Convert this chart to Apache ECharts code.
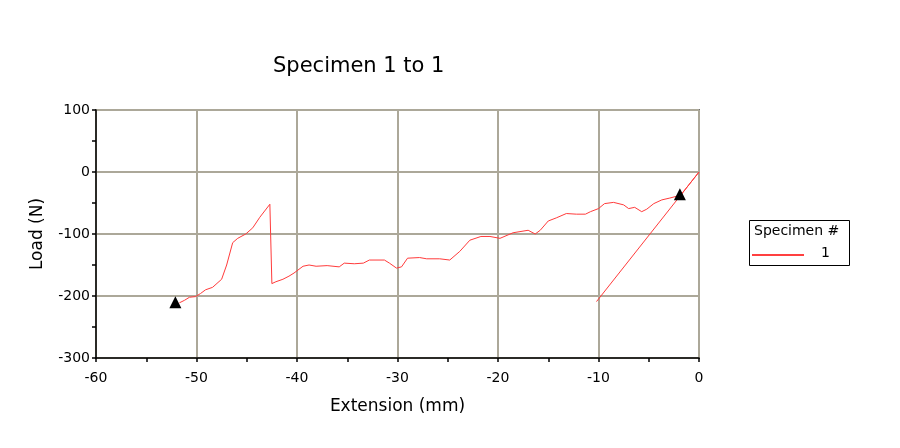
<!DOCTYPE html>
<html><head><meta charset="utf-8">
<script src="https://cdn.jsdelivr.net/npm/echarts@6/dist/echarts.min.js"></script>
<style>html,body{margin:0;padding:0;background:#fff}#c{width:900px;height:448px}</style>
</head><body><div id="c"></div>
<script>
const extension = [-51.7,-51.2,-50.7,-50.1,-49.6,-49.1,-48.4,-47.5,-47.0,-46.4,-45.9,-45.1,-44.4,-43.7,-42.7,-42.5,-42.1,-41.4,-40.8,-40.3,-39.4,-38.8,-38.1,-37.0,-35.8,-35.3,-34.3,-33.4,-32.8,-31.3,-30.8,-30.1,-29.6,-29.0,-27.8,-27.1,-25.8,-24.8,-23.8,-22.8,-21.7,-20.8,-19.8,-18.5,-17.0,-16.3,-15.8,-15.0,-14.2,-13.2,-12.2,-11.3,-10.8,-10.0,-9.4,-8.5,-7.5,-7.0,-6.4,-5.7,-5.2,-4.5,-3.7,-2.9,-2.2,-1.9,0,-10.2];
const load = [-211,-207,-202,-201,-196,-190,-186,-173,-150,-114,-107,-100,-90,-73,-52,-180,-177,-173,-168,-163,-152,-150,-152,-151,-153,-147,-148,-147,-142,-142,-147,-155,-153,-139,-138,-140,-140,-142,-128,-110,-104,-104,-107,-98,-94,-100,-94,-79,-74,-67,-68,-68,-64,-59,-51,-49,-53,-59,-57,-64,-60,-51,-45,-42,-39,-39,0,-209];
const markerX = [-52.1,-1.9];
const markerY = [-210,-36];
const xTicks = {min:-60,max:0,interval:10};
const yTicks = {min:-300,max:100,interval:100};
const titleText = 'Specimen 1 to 1';
const legendTitle = 'Specimen #';
const seriesName = '1';

const font = 'DejaVu Sans, Verdana, sans-serif';
const gridColor = '#aca899';
const chart = echarts.init(document.getElementById('c'));
chart.setOption({
  animation:false,
  backgroundColor:'#fff',
  title:{text:titleText,left:268,top:51,textStyle:{fontFamily:font,fontSize:21,fontWeight:'normal',color:'#000'}},
  grid:{left:96,right:201,top:110,bottom:90,show:true,borderColor:'#000',borderWidth:1.5,backgroundColor:'transparent'},
  xAxis:{type:'value',min:xTicks.min,max:xTicks.max,interval:xTicks.interval,
    name:'Extension (mm)',nameLocation:'middle',nameGap:40,nameTextStyle:{fontFamily:font,fontSize:17,color:'#000'},
    axisLine:{onZero:false,lineStyle:{color:'#000',width:1.5}},
    axisTick:{show:true,inside:false,length:4,lineStyle:{color:'#000',width:1.5}},
    minorTick:{show:true,splitNumber:2,length:4,lineStyle:{color:'#000',width:1.5}},
    axisLabel:{fontFamily:font,fontSize:14,color:'#000',margin:13},
    splitLine:{show:true,lineStyle:{color:gridColor,width:2}}},
  yAxis:{type:'value',min:yTicks.min,max:yTicks.max,interval:yTicks.interval,
    name:'Load (N)',nameLocation:'middle',nameGap:50,nameTextStyle:{fontFamily:font,fontSize:17,color:'#000'},
    axisLine:{onZero:false,lineStyle:{color:'#000',width:1.5}},
    axisTick:{show:true,length:4,lineStyle:{color:'#000',width:1.5}},
    minorTick:{show:true,splitNumber:2,length:4,lineStyle:{color:'#000',width:1.5}},
    axisLabel:{fontFamily:font,fontSize:14,color:'#000',margin:6},
    splitLine:{show:true,lineStyle:{color:gridColor,width:2}}},
  series:[
    {type:'line',name:seriesName,data:extension.map((x,i)=>[x,load[i]]),showSymbol:false,symbol:'none',
      lineStyle:{color:'#ff3b3b',width:1},z:3},
    {type:'scatter',data:markerX.map((x,i)=>[x,markerY[i]]),symbol:'triangle',symbolSize:12,
      itemStyle:{color:'#000',opacity:1},z:4}
  ],
  graphic:[
    {type:'rect',left:749,top:220,shape:{width:100,height:45},style:{fill:'#fff',stroke:'#000',lineWidth:1}},
    {type:'text',left:754,top:224,style:{text:legendTitle,font:'14px '+font,fill:'#000'}},
    {type:'line',shape:{x1:752,y1:255,x2:804,y2:255},style:{stroke:'#ff0000',lineWidth:1.5}},
    {type:'text',left:821,top:246,style:{text:seriesName,font:'14px '+font,fill:'#000'}}
  ]
});
</script></body></html>
